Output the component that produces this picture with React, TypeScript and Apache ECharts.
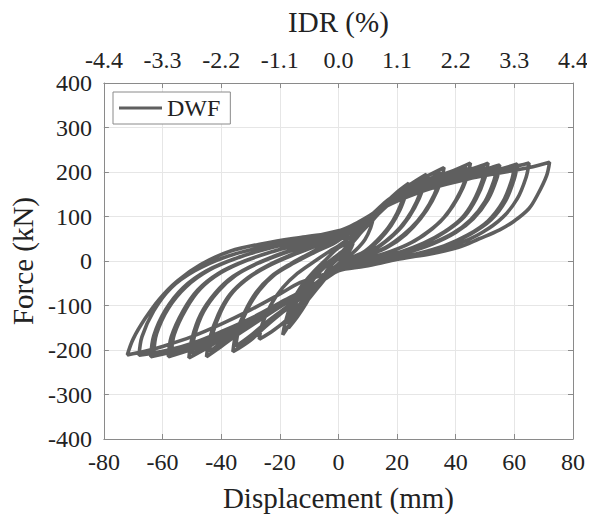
import React, { useEffect, useRef } from "react";
import * as echarts from "echarts";

// Cyclic test record of the DWF specimen: displacement (mm), force (kN).
// Each cycle runs from the pinched zone up to the positive peak, back down
// to the negative peak and up again toward the origin. The "b" cycles are
// the repeated cycles at the same target drift.
const cycle1: number[][] = [
  [0, 0], [2, 18], [4, 32], [5, 40], [4, 25], [2, 8], [0, -6], [-2, -18],
  [-4, -30], [-5, -36], [-4, -22], [-2, -6], [0, 6],
];
const cycle2: number[][] = [
  [3, 30], [6, 55], [9, 78], [12, 100], [11, 75], [9, 48], [6, 25], [3, 8],
  [0, -8], [-3, -28], [-6, -52], [-9, -76], [-12, -100], [-11, -72],
  [-9, -46], [-6, -22], [-3, -4], [0, 12],
];
const cycle3: number[][] = [
  [4, 40], [8, 72], [12, 100], [16, 130], [20, 155], [24, 175], [23, 150],
  [21, 115], [18, 80], [14, 48], [10, 25], [5, 8], [0, -10], [-4, -30],
  [-8, -60], [-11, -95], [-14, -125], [-17, -150], [-16, -120], [-14, -88],
  [-11, -55], [-8, -28], [-4, -6], [0, 15],
];
const cycle3b: number[][] = [
  [4, 36], [8, 66], [12, 94], [16, 122], [20, 146], [23, 165], [22, 140],
  [20, 108], [17, 75], [13, 45], [9, 22], [4, 6], [0, -10], [-4, -28],
  [-8, -56], [-11, -88], [-14, -118], [-17, -142], [-16, -112], [-14, -80],
  [-11, -50], [-7, -24], [-3, -4], [0, 12],
];
const cycle4: number[][] = [
  [5, 50], [9, 82], [13, 108], [18, 140], [24, 170], [30, 195], [29, 165],
  [26, 120], [22, 80], [17, 48], [12, 25], [6, 8], [0, -10], [-5, -36],
  [-9, -66], [-13, -100], [-16, -135], [-19, -166], [-18, -135],
  [-16, -95], [-13, -60], [-9, -28], [-4, 5], [0, 30],
];
const cycle4b: number[][] = [
  [5, 46], [9, 76], [13, 102], [18, 132], [24, 160], [29, 184], [28, 155],
  [25, 112], [21, 75], [16, 44], [11, 22], [5, 6], [0, -10], [-5, -34],
  [-9, -62], [-13, -95], [-17, -128], [-22, -155], [-27, -176],
  [-26, -142], [-23, -98], [-19, -60], [-14, -28], [-8, 0], [-3, 22],
  [0, 34],
];
const cycle5: number[][] = [
  [5, 58], [9, 85], [13, 110], [18, 140], [24, 168], [30, 190], [36, 210],
  [35, 180], [32, 135], [28, 95], [23, 60], [17, 32], [10, 12], [4, -2],
  [0, -14], [-4, -32], [-8, -56], [-13, -84], [-19, -115], [-25, -148],
  [-30, -178], [-36, -204], [-35, -165], [-32, -115], [-28, -70], [-23, -35],
  [-16, -5], [-9, 20], [-3, 40], [0, 50],
];
const cycle5b: number[][] = [
  [5, 55], [9, 80], [13, 104], [18, 132], [24, 160], [30, 180], [35, 198],
  [34, 170], [31, 128], [27, 90], [22, 58], [16, 30], [9, 10], [3, -4],
  [0, -14], [-4, -30], [-8, -52], [-13, -80], [-19, -110], [-25, -140],
  [-30, -168], [-35, -192], [-34, -155], [-31, -108], [-27, -66],
  [-22, -32], [-15, -4], [-8, 20], [-2, 38], [0, 46],
];
const cycle6: number[][] = [
  [4, 66], [8, 86], [12, 108], [17, 138], [23, 162], [30, 182], [38, 200],
  [45, 220], [44, 190], [41, 145], [37, 105], [32, 72], [26, 45], [19, 24],
  [11, 8], [4, -6], [0, -16], [-4, -34], [-9, -56], [-15, -82], [-22, -112],
  [-29, -142], [-35, -168], [-40, -192], [-45, -215], [-44, -175],
  [-41, -120], [-37, -75], [-31, -38], [-24, -10], [-16, 14], [-8, 35],
  [0, 55],
];
const cycle6b: number[][] = [
  [4, 62], [8, 82], [12, 104], [17, 132], [23, 156], [30, 176], [37, 194],
  [44, 208], [43, 178], [40, 136], [36, 98], [31, 68], [25, 42], [18, 22],
  [10, 6], [3, -8], [0, -16], [-4, -34], [-9, -55], [-15, -80], [-22, -110],
  [-29, -138], [-35, -162], [-40, -184], [-44, -204], [-43, -165],
  [-40, -112], [-36, -70], [-30, -35], [-23, -8], [-15, 15], [-7, 35],
  [0, 52],
];
const cycle7: number[][] = [
  [4, 68], [8, 86], [12, 108], [17, 135], [24, 160], [32, 180], [41, 198],
  [47, 210], [51, 220], [50, 188], [47, 140], [43, 100], [37, 68], [30, 42],
  [22, 22], [13, 6], [5, -8], [0, -18], [-4, -36], [-9, -58], [-16, -85],
  [-24, -115], [-32, -145], [-39, -172], [-45, -196], [-51, -218],
  [-50, -175], [-47, -120], [-42, -72], [-36, -35], [-28, -6], [-19, 18],
  [-10, 38], [0, 58],
];
const cycle7b: number[][] = [
  [4, 66], [8, 84], [12, 105], [17, 132], [24, 156], [32, 176], [41, 194],
  [47, 204], [50, 210], [49, 180], [46, 134], [42, 96], [36, 65], [29, 40],
  [21, 20], [12, 5], [4, -8], [0, -18], [-4, -36], [-9, -57], [-16, -84],
  [-24, -113], [-32, -142], [-39, -168], [-45, -190], [-50, -208],
  [-49, -166], [-46, -114], [-41, -68], [-35, -32], [-27, -4], [-18, 19],
  [-9, 38], [0, 56],
];
const cycle8: number[][] = [
  [4, 70], [8, 87], [12, 108], [18, 135], [26, 160], [35, 180], [44, 196],
  [51, 208], [55, 216], [54, 185], [51, 138], [46, 95], [40, 64], [32, 38],
  [23, 18], [14, 4], [6, -10], [0, -20], [-5, -40], [-10, -60], [-17, -87],
  [-25, -118], [-34, -148], [-42, -175], [-50, -198], [-58, -215],
  [-57, -170], [-53, -112], [-48, -65], [-41, -28], [-32, 0], [-22, 22],
  [-11, 42], [0, 62],
];
const cycle8b: number[][] = [
  [4, 68], [8, 85], [12, 106], [18, 132], [26, 156], [35, 176], [44, 192],
  [50, 203], [54, 210], [53, 180], [50, 134], [45, 92], [39, 62], [31, 37],
  [22, 17], [13, 3], [5, -10], [0, -20], [-5, -40], [-10, -60], [-17, -86],
  [-25, -116], [-34, -145], [-42, -170], [-50, -192], [-57, -208],
  [-56, -165], [-52, -108], [-47, -62], [-40, -26], [-31, 2], [-21, 24],
  [-10, 43], [0, 62],
];
const cycle9: number[][] = [
  [4, 72], [8, 88], [13, 110], [19, 136], [28, 160], [38, 180], [48, 196],
  [56, 208], [61, 218], [60, 185], [57, 135], [52, 92], [45, 60], [37, 35],
  [27, 16], [17, 2], [8, -12], [0, -22], [-5, -42], [-11, -63], [-18, -90],
  [-27, -122], [-36, -152], [-45, -180], [-54, -200], [-64, -215],
  [-63, -168], [-59, -110], [-53, -60], [-45, -22], [-35, 6], [-24, 28],
  [-12, 46], [0, 66],
];
const cycle9b: number[][] = [
  [4, 70], [8, 86], [13, 108], [19, 134], [28, 158], [38, 177], [48, 192],
  [56, 204], [60, 212], [59, 180], [56, 132], [51, 90], [44, 58], [36, 34],
  [26, 15], [16, 1], [7, -12], [0, -22], [-5, -42], [-11, -62], [-18, -89],
  [-27, -120], [-36, -150], [-45, -176], [-54, -195], [-63, -208],
  [-62, -163], [-58, -106], [-52, -58], [-44, -20], [-34, 8], [-23, 30],
  [-11, 47], [0, 66],
];
const cycle10: number[][] = [
  [4, 75], [8, 90], [13, 112], [20, 138], [30, 162], [40, 182], [50, 197],
  [59, 210], [65, 220], [64, 188], [61, 140], [56, 98], [49, 64], [40, 36],
  [30, 16], [19, 2], [9, -12], [0, -22], [-6, -44], [-12, -66], [-20, -94],
  [-29, -126], [-39, -156], [-49, -183], [-58, -200], [-68, -212],
  [-67, -170], [-63, -112], [-57, -60], [-49, -22], [-39, 8], [-27, 30],
  [-14, 48], [0, 68],
];
const cycle11: number[][] = [
  [4, 78], [8, 92], [14, 115], [22, 140], [32, 164], [44, 184], [55, 198],
  [65, 210], [72, 222], [71, 192], [68, 150], [65, 118], [60, 90], [55, 70],
  [48, 50], [41, 31], [30, 14], [21, 6], [10, -6], [0, -20], [-7, -35],
  [-13, -48], [-21, -78], [-30, -110], [-40, -142], [-50, -170],
  [-60, -192], [-66, -203], [-72, -211], [-70, -175], [-66, -130],
  [-61, -85], [-55, -45], [-47, -8], [-37, 22], [-25, 40], [-12, 54],
  [0, 66], [5, 80],
];

const cycles = [
  cycle1, cycle2, cycle3, cycle3b, cycle4, cycle4b, cycle5, cycle5b,
  cycle6, cycle6b, cycle7, cycle7b, cycle8, cycle8b, cycle9, cycle9b,
  cycle10, cycle11,
];

const dispTicks = { min: -80, max: 80, step: 20 };
const idrTicks = { min: -4.4, max: 4.4, step: 1.1 };
const forceTicks = { min: -400, max: 400, step: 100 };

const FONT = "'Liberation Serif', 'Times New Roman', Times, serif";
const TEXT = "#222222";
const AXIS = "#8a8a8a";
const GRIDLINE = "#e6e6e6";
const CURVE = "#5f5f5f";

export default function App() {
  const ref = useRef<HTMLDivElement>(null);

  useEffect(() => {
    if (!ref.current) return;
    const chart = echarts.init(ref.current, undefined, { renderer: "svg" });

    const data = cycles.flat();

    const labelStyle = { fontFamily: FONT, fontSize: 24, color: TEXT };
    const nameStyle = { fontFamily: FONT, fontSize: 29, color: TEXT };
    const tick = { show: true, inside: true, length: 5, lineStyle: { color: AXIS } };
    const line = { show: true, onZero: false, lineStyle: { color: AXIS, width: 1 } };

    chart.setOption({
      animation: false,
      backgroundColor: "#ffffff",
      grid: { left: 103, right: 22, top: 83, bottom: 83, containLabel: false },
      legend: {
        left: 113,
        top: 92,
        orient: "vertical",
        data: [{ name: "DWF", icon: "rect" }],
        backgroundColor: "#ffffff",
        borderColor: "#8a8a8a",
        borderWidth: 1,
        padding: [4, 10, 4, 6],
        itemWidth: 43,
        itemHeight: 3,
        itemGap: 6,
        textStyle: { fontFamily: FONT, fontSize: 24, color: TEXT },
        z: 10,
      },
      xAxis: [
        {
          type: "value",
          position: "bottom",
          min: dispTicks.min,
          max: dispTicks.max,
          interval: dispTicks.step,
          name: "Displacement (mm)",
          nameLocation: "middle",
          nameGap: 44,
          nameTextStyle: nameStyle,
          axisLine: line,
          axisTick: tick,
          axisLabel: { ...labelStyle, margin: 11 },
          splitLine: { show: true, lineStyle: { color: GRIDLINE, width: 1 } },
        },
        {
          type: "value",
          position: "top",
          min: idrTicks.min,
          max: idrTicks.max,
          interval: idrTicks.step,
          name: "IDR (%)",
          nameLocation: "middle",
          nameGap: 47,
          nameTextStyle: nameStyle,
          axisLine: line,
          axisTick: tick,
          axisLabel: {
            ...labelStyle,
            margin: 11,
            formatter: (v: number) => v.toFixed(1),
          },
          splitLine: { show: false },
        },
      ],
      yAxis: [
        {
          type: "value",
          position: "left",
          min: forceTicks.min,
          max: forceTicks.max,
          interval: forceTicks.step,
          name: "Force (kN)",
          nameLocation: "middle",
          nameGap: 64,
          nameTextStyle: nameStyle,
          axisLine: line,
          axisTick: tick,
          axisLabel: { ...labelStyle, margin: 12 },
          splitLine: { show: true, lineStyle: { color: GRIDLINE, width: 1 } },
        },
        {
          type: "value",
          position: "right",
          min: forceTicks.min,
          max: forceTicks.max,
          interval: forceTicks.step,
          axisLine: line,
          axisTick: tick,
          axisLabel: { show: false },
          splitLine: { show: false },
        },
      ],
      series: [
        {
          name: "DWF",
          type: "line",
          xAxisIndex: 0,
          yAxisIndex: 0,
          data,
          symbol: "none",
          smooth: 0.35,
          lineStyle: { color: CURVE, width: 3.6 },
          itemStyle: { color: CURVE },
          z: 3,
        },
      ],
    });

    return () => chart.dispose();
  }, []);

  return <div ref={ref} style={{ width: 595, height: 522, margin: -8 }} />;
}
